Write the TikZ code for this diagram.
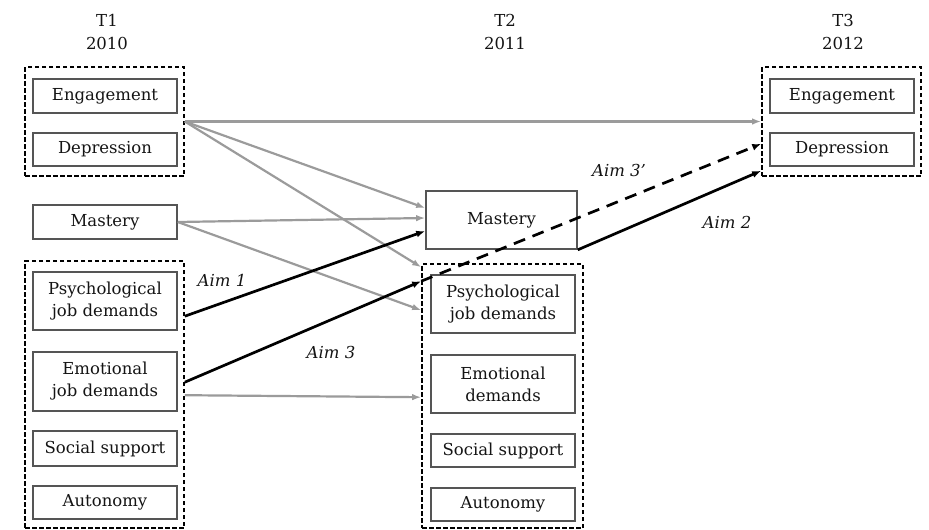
\documentclass[tikz,border=0pt]{standalone}
\usepackage{fontspec}
\setmainfont{DejaVu Serif}
\usetikzlibrary{arrows.meta,calc}
\definecolor{boxline}{RGB}{85,85,85}
\definecolor{grayarrow}{RGB}{155,155,155}
\definecolor{txt}{RGB}{20,20,20}
\begin{document}
\begin{tikzpicture}[x=1pt,y=-1pt,
  font=\fontsize{16.5}{22}\selectfont,
  varbox/.style={draw=boxline, line width=1.6pt, minimum width=144pt, align=center, inner sep=0pt, text=txt},
  groupbox/.style={draw=black, line width=1.6pt, dash pattern=on 4.5pt off 2.5pt, inner sep=0pt},
  grayarr/.style={draw=grayarrow, line width=2.2pt, -{Latex[length=9pt,width=6.5pt]}},
  blackarr/.style={draw=black, line width=2.7pt, -{Latex[length=9pt,width=7pt]}},
  aimlabel/.style={font=\fontsize{16.5}{22}\selectfont\itshape, text=txt},
  timelabel/.style={align=center, text=txt, font=\fontsize{16.5}{23}\selectfont}]
\useasboundingbox (0,0) rectangle (929,530);

% time labels
\node[timelabel] (t1) at (107,31.5) {T1\\2010};
\node[timelabel] (t2) at (505,31.5) {T2\\2011};
\node[timelabel] (t3) at (843,31.5) {T3\\2012};

% group boxes
\node[groupbox, minimum width=159pt, minimum height=109pt] (g1a) at (104.5,121.5) {};
\node[groupbox, minimum width=159pt, minimum height=267pt] (g1b) at (104.5,394.5) {};
\node[groupbox, minimum width=161pt, minimum height=264pt] (g2) at (502.5,396) {};
\node[groupbox, minimum width=159pt, minimum height=109pt] (g3) at (841.5,121.5) {};

% T1 boxes
\node[varbox, minimum height=34pt] (eng1) at (105,96) {Engagement};
\node[varbox, minimum height=33pt] (dep1) at (105,149.5) {Depression};
\node[varbox, minimum height=34pt] (mas1) at (105,222) {Mastery};
\node[varbox, minimum height=58pt] (psy1) at (105,301) {Psychological\\job demands};
\node[varbox, minimum height=59pt] (emo1) at (105,381.5) {Emotional\\job demands};
\node[varbox, minimum height=35pt] (soc1) at (105,448.5) {Social support};
\node[varbox, minimum height=33pt] (aut1) at (105,502.5) {Autonomy};

% T2 boxes
\node[varbox, minimum width=151pt, minimum height=58pt] (mas2) at (501.5,220) {Mastery};
\node[varbox, minimum height=58pt] (psy2) at (503,304) {Psychological\\job demands};
\node[varbox, minimum height=58pt] (emo2) at (503,384) {Emotional\\demands};
\node[varbox, minimum height=33pt] (soc2) at (503,450.5) {Social support};
\node[varbox, minimum height=33pt] (aut2) at (503,504.5) {Autonomy};

% T3 boxes
\node[varbox, minimum height=34pt] (eng3) at (842,96) {Engagement};
\node[varbox, minimum height=33pt] (dep3) at (842,149.5) {Depression};

% connection points
\coordinate (s1) at (g1a.east);
\coordinate (e2aim1) at ($(mas2.west)+(0,11)$);
\coordinate (e2aim3) at ($(g2.north west)+(0,18)$);
\coordinate (s1psy) at ($(g1b.north east)+(0,56)$);
\coordinate (s1emoA) at ($(g1b.north east)+(0,122)$);
\coordinate (s1emoB) at ($(g1b.north east)+(0,135)$);

% gray arrows
\draw[grayarr] (s1) -- (g3.west);
\draw[grayarr] (s1) -- ($(mas2.west)+(0,-12)$);
\draw[grayarr] (s1) -- ($(g2.north west)+(0,4)$);
\draw[grayarr] (mas1.east) -- ($(mas2.west)+(0,-2)$);
\draw[grayarr] (mas1.east) -- ($(g2.north west)+(0,47)$);
\draw[grayarr] (s1emoB) -- ($(g2.north west)+(0,134)$);

% black arrows
\draw[blackarr] (s1psy) -- (e2aim1);
\draw[blackarr] (s1emoA) -- (e2aim3);
\draw[blackarr, dash pattern=on 12pt off 8pt] (e2aim3) -- ($(g3.south west)+(0,-33)$);
\draw[blackarr] (mas2.south east) -- ($(g3.south west)+(0,-6)$);

% aim labels
\node[aimlabel] (aim1) at (222,280) {Aim 1};
\node[aimlabel] (aim3) at (331,352) {Aim 3};
\node[aimlabel] (aim3p) at (619,170) {Aim 3’};
\node[aimlabel] (aim2) at (727,222) {Aim 2};
\end{tikzpicture}
\end{document}
